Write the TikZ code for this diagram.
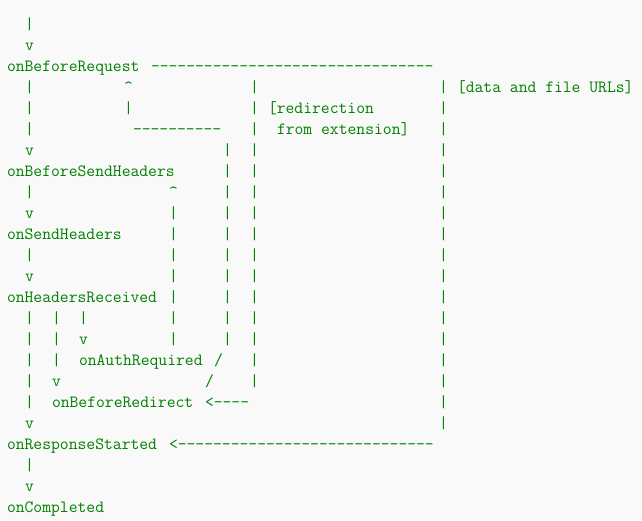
\documentclass[tikz,border=0pt]{standalone}
\usepackage{fontspec}
\usepackage{tikz}
\usetikzlibrary{positioning}
\definecolor{codegreen}{RGB}{0,128,0}
\definecolor{pagegray}{RGB}{249,249,249}

\begin{document}
\begin{tikzpicture}[
  x=9pt, y=21pt,
  ch/.style={anchor=base west, inner sep=0pt, outer sep=0pt, text=codegreen,
             font=\fontsize{17.14pt}{21pt}\selectfont\ttfamily}
]
\useasboundingbox[fill=pagegray] (-7pt,29pt) rectangle (635pt,-491pt);

\node[ch] (req) at (0,-2) {onBeforeRequest};
\node[ch] (sendh) at (0,-7) {onBeforeSendHeaders};
\node[ch] (sent) at (0,-10) {onSendHeaders};
\node[ch] (recv) at (0,-13) {onHeadersReceived};
\node[ch] (auth) at (8,-16) {onAuthRequired};
\node[ch] (redir) at (5,-18) {onBeforeRedirect};
\node[ch] (resp) at (0,-20) {onResponseStarted};
\node[ch] (done) at (0,-23) {onCompleted};

\node[ch] (datanote) at (50,-3) {[data and file URLs]};
\node[ch] (extnote) at (29,-4) {[redirection};
\node[ch] (extnote2) at (30,-5) {from extension]};

\node[ch] (reqline) at (16,-2) {--------------------------------};
\node[ch] (loopline) at (14,-5) {----------};
\node[ch] (redirline) at (22,-18) {<----};
\node[ch] (respline) at (18,-20) {<-----------------------------};

\node[ch] (requp) at (13,-3) {\textasciicircum};
\node[ch] (requp2) at (13,-4) {|};
\node[ch] (sendhup) at (18,-8) {\textasciicircum};
\node[ch] (authv) at (8,-15) {v};
\node[ch] (authbar) at (8,-14) {|};
\node[ch] (redirv) at (5,-17) {v};
\node[ch] (slash1) at (23,-16) {/};
\node[ch] (slash2) at (22,-17) {/};

\foreach \r in {0,3,4,5,8,11,14,15,16,17,18,21}
  \node[ch] (m-\r) at (2,-\r) {|};
\foreach \r in {1,6,9,12,19,22}
  \node[ch] (m-\r) at (2,-\r) {v};
\foreach \r in {14,15,16}
  \node[ch] (a-\r) at (5,-\r) {|};
\foreach \r in {9,...,15}
  \node[ch] (b18-\r) at (18,-\r) {|};
\foreach \r in {6,...,15}
  \node[ch] (b24-\r) at (24,-\r) {|};
\foreach \r in {3,...,17}
  \node[ch] (b27-\r) at (27,-\r) {|};
\foreach \r in {3,...,19}
  \node[ch] (b48-\r) at (48,-\r) {|};
\end{tikzpicture}
\end{document}
